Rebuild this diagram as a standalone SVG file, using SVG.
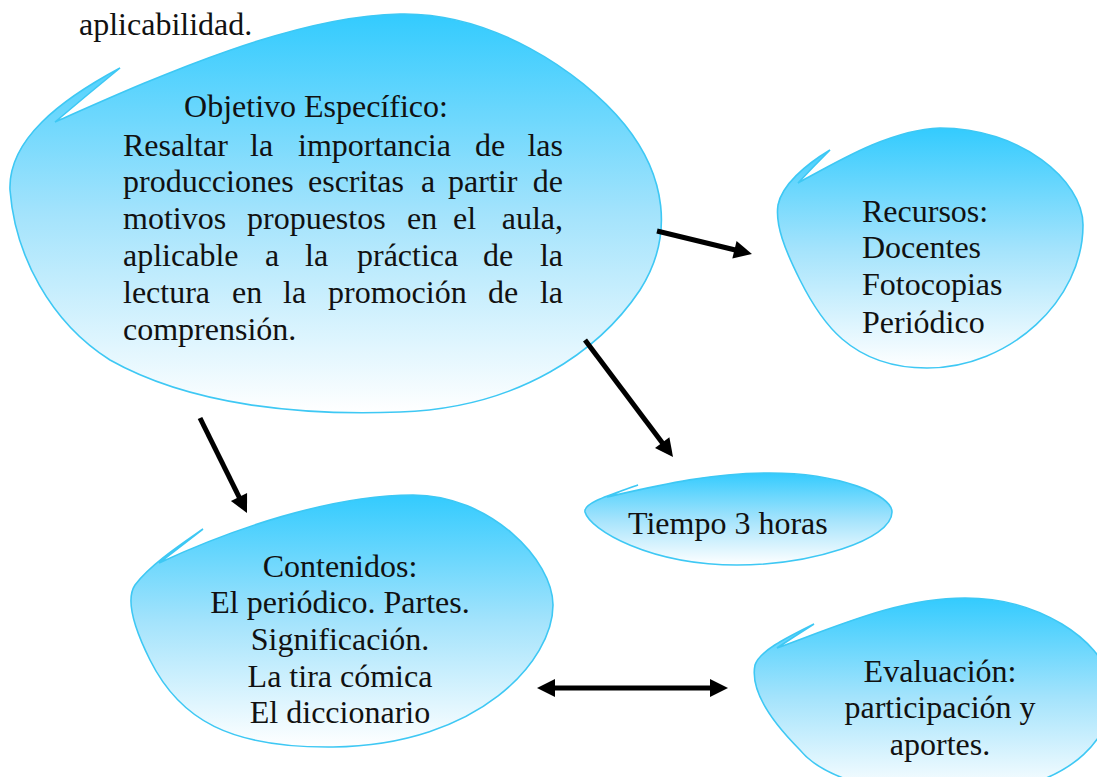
<svg xmlns="http://www.w3.org/2000/svg" width="1097" height="777" viewBox="0 0 1097 777">
<style>
.t{font-family:"Liberation Serif","Times New Roman",serif;font-size:32px;fill:#111}
.c{text-anchor:middle}
.e{text-anchor:end}
.b{fill:url(#g);stroke:#3EC8F4;stroke-width:1.6}
.a{stroke:#000;stroke-width:5;fill:none}
</style>
<defs>
<linearGradient id="g" x1="0" y1="0" x2="0" y2="1">
<stop offset="0" stop-color="#33CBFE"/>
<stop offset="0.5" stop-color="#A3E3FC"/>
<stop offset="1" stop-color="#FFFFFF"/>
</linearGradient>
<marker id="ah" markerUnits="userSpaceOnUse" viewBox="-1 -10 21 20" markerWidth="21" markerHeight="20" refX="2" refY="0" orient="auto-start-reverse">
<path d="M0,-9 L18,0 L0,9 Z" fill="#000"/>
</marker>
</defs>
<rect width="1097" height="777" fill="#fff"/>
<text class="t" x="79" y="35">aplicabilidad.</text>

<g id="objetivo">
<path class="b" d="M120,68 Q87,95 55,122 C150,80 290,16 400,14 C490,12 580,70 625,125 C665,175 675,235 640,290 C600,350 520,408 400,412 C300,416 190,405 110,360 C50,322 15,255 10,190 C8,140 60,100 120,68 Z"/>
<text class="t c" x="316" y="117">Objetivo Específico:</text>
<text class="t" y="156"><tspan x="123">Resaltar</tspan><tspan x="250">la</tspan><tspan x="298">importancia</tspan><tspan x="475">de</tspan></text>
<text class="t e" x="563" y="156">las</text>
<text class="t" y="192"><tspan x="123">producciones</tspan><tspan x="308">escritas</tspan><tspan x="421">a</tspan><tspan x="448">partir</tspan></text>
<text class="t e" x="563" y="192">de</text>
<text class="t" y="229"><tspan x="123">motivos</tspan><tspan x="247">propuestos</tspan><tspan x="407">en</tspan><tspan x="453">el</tspan></text>
<text class="t e" x="563" y="229">aula,</text>
<text class="t" y="266"><tspan x="123">aplicable</tspan><tspan x="265">a</tspan><tspan x="305">la</tspan><tspan x="357">práctica</tspan><tspan x="483">de</tspan></text>
<text class="t e" x="563" y="266">la</text>
<text class="t" y="303"><tspan x="123">lectura</tspan><tspan x="232">en</tspan><tspan x="283">la</tspan><tspan x="328">promoción</tspan><tspan x="488">de</tspan></text>
<text class="t e" x="563" y="303">la</text>
<text class="t" x="123" y="340">comprensión.</text>
</g>

<g id="recursos">
<path class="b" d="M830,150 Q813,167 798,183 C840,160 890,130 940,128 C1020,128 1083,180 1083,225 C1083,300 1010,368 927,368 C850,368 820,320 800,280 C785,250 775,225 778,205 C782,185 805,165 830,150 Z"/>
<text class="t" x="862" y="222">Recursos:</text>
<text class="t" x="862" y="258">Docentes</text>
<text class="t" x="862" y="295">Fotocopias</text>
<text class="t" x="862" y="333">Periódico</text>
</g>

<g id="tiempo">
<path class="b" d="M638,485 Q622,490 607,497 C660,485 710,473 770,473 C840,473 892,495 892,512 C892,540 810,565 737,565 C650,565 590,530 585,512 C583,503 610,495 638,485 Z"/>
<text class="t" x="628" y="534">Tiempo 3 horas</text>
</g>

<g id="contenidos">
<path class="b" d="M203,529 Q181,546 159,563 C230,530 330,495 413,495 C490,495 553,560 553,605 C553,660 480,745 333,747 C230,748 180,720 150,660 C135,630 125,600 135,585 C150,565 180,545 203,529 Z"/>
<text class="t c" x="340" y="577">Contenidos:</text>
<text class="t c" x="340" y="613">El periódico. Partes.</text>
<text class="t c" x="340" y="650">Significación.</text>
<text class="t c" x="340" y="687">La tira cómica</text>
<text class="t c" x="340" y="723">El diccionario</text>
</g>

<g id="evaluacion">
<path class="b" d="M814,624 Q795,636 777,648 C840,625 900,598 965,598 C1040,598 1100,640 1110,680 C1120,730 1080,790 960,795 C880,798 820,775 800,750 C770,720 750,690 755,665 C760,650 790,636 814,624 Z"/>
<text class="t c" x="940" y="682">Evaluación:</text>
<text class="t c" x="940" y="718">participación y</text>
<text class="t c" x="940" y="755">aportes.</text>
</g>

<g id="connectors">
<line class="a" x1="657" y1="231" x2="736.4" y2="250.2" marker-end="url(#ah)"/>
<line class="a" x1="585" y1="340" x2="663.4" y2="444.2" marker-end="url(#ah)"/>
<line class="a" x1="200" y1="418" x2="239.9" y2="498.7" marker-end="url(#ah)"/>
<line class="a" x1="553" y1="688" x2="712" y2="688" marker-start="url(#ah)" marker-end="url(#ah)"/>
</g>
</svg>
